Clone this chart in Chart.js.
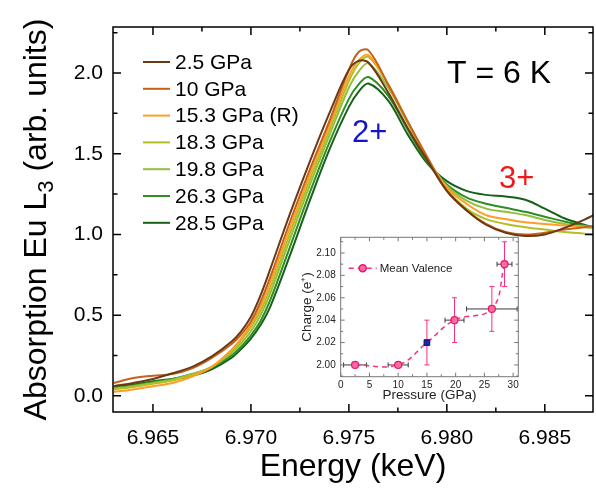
<!DOCTYPE html>
<html><head><meta charset="utf-8">
<script src="https://cdn.jsdelivr.net/npm/chart.js@4.4.1/dist/chart.umd.min.js"></script>
<style>
html,body{margin:0;padding:0;background:#fff;}
#wrap{position:relative;width:596px;height:489px;overflow:hidden;}
#main{position:absolute;left:0;top:0;width:596px;height:489px;}
#inset{position:absolute;left:295px;top:226px;width:235px;height:184px;}
</style></head><body>
<div id="wrap">
<canvas id="main" width="596" height="489"></canvas>
<canvas id="inset" width="235" height="184"></canvas>
</div>
<script>
// ---------- main chart data ----------
const energy = [6.963, 6.964, 6.965, 6.966, 6.967, 6.968, 6.969, 6.9695, 6.970, 6.9705, 6.971, 6.972, 6.973, 6.974, 6.975, 6.9755, 6.976, 6.977, 6.978, 6.979, 6.980, 6.981, 6.982, 6.983, 6.984, 6.985, 6.986, 6.987, 6.9875];
const seriesLabels = ['2.5 GPa', '10 GPa', '15.3 GPa (R)', '18.3 GPa', '19.8 GPa', '26.3 GPa', '28.5 GPa'];
const abs_2_5  = [0.06, 0.08, 0.105, 0.14, 0.18, 0.245, 0.335, 0.40, 0.49, 0.625, 0.79, 1.13, 1.45, 1.75, 2.02, 2.075, 2.065, 1.88, 1.66, 1.46, 1.27, 1.15, 1.06, 1.01, 0.99, 1.00, 1.04, 1.09, 1.12];
const abs_10   = [0.08, 0.11, 0.125, 0.135, 0.17, 0.235, 0.32, 0.38, 0.46, 0.585, 0.74, 1.08, 1.40, 1.70, 2.02, 2.13, 2.14, 1.93, 1.70, 1.48, 1.27, 1.15, 1.065, 1.015, 1.00, 1.01, 1.03, 1.045, 1.05];
const abs_15_3 = [0.025, 0.04, 0.06, 0.08, 0.12, 0.18, 0.285, 0.355, 0.44, 0.556, 0.706, 1.043, 1.368, 1.674, 1.98, 2.08, 2.11, 1.93, 1.70, 1.47, 1.29, 1.19, 1.12, 1.095, 1.075, 1.065, 1.055, 1.05, 1.045];
const abs_18_3 = [0.04, 0.055, 0.075, 0.095, 0.13, 0.18, 0.275, 0.345, 0.426, 0.529, 0.672, 1.009, 1.336, 1.643, 1.95, 2.06, 2.10, 1.93, 1.70, 1.47, 1.28, 1.16, 1.095, 1.065, 1.045, 1.03, 1.015, 1.005, 1.00];
const abs_19_8 = [0.045, 0.06, 0.08, 0.10, 0.135, 0.18, 0.265, 0.325, 0.40, 0.50, 0.639, 0.974, 1.303, 1.612, 1.91, 2.01, 2.06, 1.91, 1.69, 1.47, 1.30, 1.21, 1.16, 1.14, 1.12, 1.09, 1.065, 1.045, 1.04];
const abs_26_3 = [0.05, 0.065, 0.085, 0.105, 0.135, 0.175, 0.25, 0.305, 0.375, 0.465, 0.597, 0.925, 1.257, 1.569, 1.84, 1.93, 1.975, 1.86, 1.65, 1.45, 1.31, 1.23, 1.19, 1.165, 1.14, 1.11, 1.08, 1.055, 1.045];
const abs_28_5 = [0.055, 0.07, 0.09, 0.105, 0.125, 0.165, 0.235, 0.29, 0.355, 0.44, 0.556, 0.873, 1.208, 1.524, 1.79, 1.885, 1.935, 1.83, 1.62, 1.44, 1.33, 1.27, 1.245, 1.235, 1.215, 1.16, 1.10, 1.06, 1.045];
const xTickValues = [6.965, 6.970, 6.975, 6.980, 6.985];
const yTickValues = [0.0, 0.5, 1.0, 1.5, 2.0];

// ---------- inset data ----------
const pressure     = [2.5, 10, 15, 19.8, 26.3, 28.5];
const meanValence  = [2.00, 2.00, 2.02, 2.04, 2.05, 2.09];
const pressureErr  = [2.0, 1.75, 0, 1.65, 4.4, 1.3];
const valenceErr   = [0, 0, 0.02, 0.02, 0.02, 0.02];
const refIndex     = 2;
const insetXTicks  = [0, 5, 10, 15, 20, 25, 30];
const insetYTicks  = [2.00, 2.02, 2.04, 2.06, 2.08, 2.10];

// ---------- styles ----------
const FONT = '"Liberation Sans", Arial, Helvetica, sans-serif';
const seriesColors = ['#6b3a14', '#c4621c', '#ff9d26', '#b2bf22', '#94be3e', '#2e8e22', '#17611a'];
const seriesValues = [abs_2_5, abs_10, abs_15_3, abs_18_3, abs_19_8, abs_26_3, abs_28_5];

function minorBetween(ticks) {
  const step = ticks[1] - ticks[0];
  const out = [ticks[0] - step / 2];
  ticks.forEach(v => out.push(v + step / 2));
  return out;
}

function framePlugin(o) {
  return {
    id: 'frame_' + o.name,
    afterDraw(chart) {
      const {ctx, chartArea: a, scales: {x, y}} = chart;
      ctx.save();
      ctx.strokeStyle = o.color;
      ctx.lineWidth = o.lw;
      ctx.strokeRect(a.left, a.top, a.right - a.left, a.bottom - a.top);
      ctx.beginPath();
      const tx = (v, len) => {
        const p = x.getPixelForValue(v);
        if (p < a.left - 0.5 || p > a.right + 0.5) return;
        ctx.moveTo(p, a.bottom); ctx.lineTo(p, a.bottom - len);
        ctx.moveTo(p, a.top); ctx.lineTo(p, a.top + len);
      };
      const ty = (v, len) => {
        const p = y.getPixelForValue(v);
        if (p < a.top - 0.5 || p > a.bottom + 0.5) return;
        ctx.moveTo(a.left, p); ctx.lineTo(a.left + len, p);
        ctx.moveTo(a.right, p); ctx.lineTo(a.right - len, p);
      };
      o.xMajor.forEach(v => tx(v, o.major));
      minorBetween(o.xMajor).forEach(v => tx(v, o.minor));
      o.yMajor.forEach(v => ty(v, o.major));
      minorBetween(o.yMajor).forEach(v => ty(v, o.minor));
      ctx.stroke();
      ctx.restore();
    }
  };
}

const mainDecor = {
  id: 'mainDecor',
  afterDraw(chart) {
    const {ctx, scales: {x, y}, chartArea: a} = chart;
    ctx.save();
    // legend
    ctx.font = '21px ' + FONT;
    ctx.textBaseline = 'middle';
    ctx.textAlign = 'left';
    seriesLabels.forEach((lab, i) => {
      const yy = 62 + i * 26.8;
      ctx.strokeStyle = seriesColors[i];
      ctx.lineWidth = 2;
      ctx.beginPath(); ctx.moveTo(143, yy); ctx.lineTo(170, yy); ctx.stroke();
      ctx.fillStyle = '#000';
      ctx.fillText(lab, 175, yy + 1);
    });
    // annotations (in data coordinates)
    ctx.textBaseline = 'alphabetic';
    ctx.font = '32px ' + FONT;
    ctx.fillStyle = '#000';
    ctx.fillText('T = 6 K', x.getPixelForValue(6.98001), y.getPixelForValue(1.939));
    ctx.font = '31px ' + FONT;
    ctx.fillStyle = '#1414c8';
    ctx.fillText('2+', x.getPixelForValue(6.97516), y.getPixelForValue(1.570));
    ctx.fillStyle = '#f01818';
    ctx.fillText('3+', x.getPixelForValue(6.98266), y.getPixelForValue(1.288));
    // y axis title with subscript
    const cx = 35, cy = (a.top + a.bottom) / 2;
    ctx.translate(cx, cy);
    ctx.rotate(-Math.PI / 2);
    ctx.fillStyle = '#000';
    const p1 = 'Absorption Eu L', p2 = '3', p3 = ' (arb. units)';
    const f1 = '32px ' + FONT, f2 = '22px ' + FONT;
    ctx.font = f1; const w1 = ctx.measureText(p1).width; const w3 = ctx.measureText(p3).width;
    ctx.font = f2; const w2 = ctx.measureText(p2).width;
    let x0 = -(w1 + w2 + w3) / 2;
    const base = 11;
    ctx.font = f1; ctx.fillText(p1, x0, base);
    ctx.font = f2; ctx.fillText(p2, x0 + w1, base + 7);
    ctx.font = f1; ctx.fillText(p3, x0 + w1 + w2, base);
    ctx.restore();
  }
};

new Chart(document.getElementById('main'), {
  type: 'line',
  data: {
    datasets: seriesLabels.map((lab, i) => ({
      label: lab,
      data: energy.map((e, j) => ({x: e, y: seriesValues[i][j]})),
      borderColor: seriesColors[i],
      borderWidth: 2,
      pointRadius: 0,
      tension: 0.35,
      fill: false
    }))
  },
  options: {
    responsive: false,
    animation: false,
    devicePixelRatio: 1,
    layout: {padding: {top: 27, right: 3, left: 0, bottom: 0}},
    plugins: {legend: {display: false}, tooltip: {enabled: false}},
    scales: {
      x: {
        type: 'linear', min: 6.96296, max: 6.98746,
        afterBuildTicks: s => { s.ticks = xTickValues.map(v => ({value: v})); },
        afterFit: s => { s.height = 77; },
        grid: {display: false, drawTicks: false},
        border: {display: false},
        ticks: {font: {family: FONT, size: 21}, color: '#000', padding: 14, maxRotation: 0, autoSkip: false,
                callback: v => Number(v).toFixed(3)},
        title: {display: true, text: 'Energy (keV)', color: '#000', font: {family: FONT, size: 32}, padding: {top: 0, bottom: 3}}
      },
      y: {
        type: 'linear', min: -0.1, max: 2.285,
        afterBuildTicks: s => { s.ticks = yTickValues.map(v => ({value: v})); },
        afterFit: s => { s.width = 113; },
        grid: {display: false, drawTicks: false},
        border: {display: false},
        ticks: {font: {family: FONT, size: 21}, color: '#000', padding: 10, autoSkip: false,
                callback: v => Number(v).toFixed(1)},
        title: {display: false}
      }
    }
  },
  plugins: [framePlugin({name: 'main', color: '#000', lw: 1.5, major: 8, minor: 4.5, xMajor: xTickValues, yMajor: yTickValues}), mainDecor]
});

// ---------- inset ----------
const PINK = '#ff2d7d';
const insetDecor = {
  id: 'insetDecor',
  beforeDatasetsDraw(chart) {
    const {ctx, scales: {x, y}} = chart;
    ctx.save();
    ctx.lineWidth = 1;
    pressure.forEach((p, i) => {
      const px = x.getPixelForValue(p), py = y.getPixelForValue(meanValence[i]);
      if (pressureErr[i] > 0) {
        const l = x.getPixelForValue(p - pressureErr[i]), r = x.getPixelForValue(p + pressureErr[i]);
        ctx.strokeStyle = '#3a3a3a';
        ctx.beginPath();
        ctx.moveTo(l, py); ctx.lineTo(r, py);
        ctx.moveTo(l, py - 2.5); ctx.lineTo(l, py + 2.5);
        ctx.moveTo(r, py - 2.5); ctx.lineTo(r, py + 2.5);
        ctx.stroke();
      }
      if (valenceErr[i] > 0) {
        const t = y.getPixelForValue(meanValence[i] + valenceErr[i]), b = y.getPixelForValue(meanValence[i] - valenceErr[i]);
        ctx.strokeStyle = PINK;
        ctx.beginPath();
        ctx.moveTo(px, t); ctx.lineTo(px, b);
        ctx.moveTo(px - 2.5, t); ctx.lineTo(px + 2.5, t);
        ctx.moveTo(px - 2.5, b); ctx.lineTo(px + 2.5, b);
        ctx.stroke();
      }
    });
    ctx.restore();
  },
  afterDraw(chart) {
    const {ctx, chartArea: a} = chart;
    ctx.save();
    const ly = a.top + 31, lx = a.left + 8;
    ctx.strokeStyle = PINK; ctx.lineWidth = 1.5; ctx.setLineDash([5, 4]);
    ctx.beginPath(); ctx.moveTo(lx, ly); ctx.lineTo(lx + 28, ly); ctx.stroke();
    ctx.setLineDash([]);
    ctx.fillStyle = '#ff6aa5'; ctx.strokeStyle = '#e8176b';
    ctx.beginPath(); ctx.arc(lx + 14, ly, 3.5, 0, Math.PI * 2); ctx.fill(); ctx.stroke();
    ctx.fillStyle = '#1a1a1a';
    ctx.font = '11.5px ' + FONT; ctx.textBaseline = 'middle'; ctx.textAlign = 'left';
    ctx.fillText('Mean Valence', lx + 31, ly + 0.5);
    ctx.restore();
  }
};

new Chart(document.getElementById('inset'), {
  type: 'line',
  data: {
    datasets: [
      {
        label: 'ref',
        data: [{x: pressure[refIndex], y: meanValence[refIndex]}],
        showLine: false,
        pointStyle: 'rect',
        pointRadius: 4,
        pointBackgroundColor: '#1a2aa8',
        pointBorderColor: '#0b1060',
        pointBorderWidth: 1
      },
      {
        label: 'Mean Valence',
        data: pressure.map((p, i) => ({x: p, y: meanValence[i]})),
        borderColor: PINK,
        borderWidth: 1.5,
        borderDash: [5, 4],
        tension: 0.4,
        pointRadius: pressure.map((p, i) => i === refIndex ? 0 : 3.5),
        pointBackgroundColor: '#ff6aa5',
        pointBorderColor: '#e8176b',
        pointBorderWidth: 1.2
      }
    ]
  },
  options: {
    responsive: false,
    animation: false,
    devicePixelRatio: 1,
    layout: {padding: {top: 11.3, right: 11.7, left: 0, bottom: 0}},
    plugins: {legend: {display: false}, tooltip: {enabled: false}},
    scales: {
      x: {
        type: 'linear', min: 0, max: 30.9,
        afterBuildTicks: s => { s.ticks = insetXTicks.map(v => ({value: v})); },
        afterFit: s => { s.height = 33.3; },
        grid: {display: false, drawTicks: false},
        border: {display: false},
        ticks: {font: {family: FONT, size: 10}, color: '#222', padding: 2.3, maxRotation: 0, autoSkip: false},
        title: {display: true, text: 'Pressure (GPa)', color: '#222', font: {family: FONT, size: 13.5}, padding: {top: 0, bottom: 6.2}}
      },
      y: {
        type: 'linear', min: 1.9895, max: 2.114,
        afterBuildTicks: s => { s.ticks = insetYTicks.map(v => ({value: v})); },
        afterFit: s => { s.width = 45.7; },
        grid: {display: false, drawTicks: false},
        border: {display: false},
        ticks: {font: {family: FONT, size: 10}, color: '#222', padding: 5, autoSkip: false,
                callback: v => Number(v).toFixed(2)},
        title: {display: true, text: 'Charge (e\u207A)', color: '#222', font: {family: FONT, size: 13.5}, padding: {top: 3.9, bottom: 0}}
      }
    }
  },
  plugins: [framePlugin({name: 'inset', color: '#777', lw: 1, major: 4, minor: 2.5, xMajor: insetXTicks, yMajor: insetYTicks}), insetDecor]
});
</script>
</body></html>
